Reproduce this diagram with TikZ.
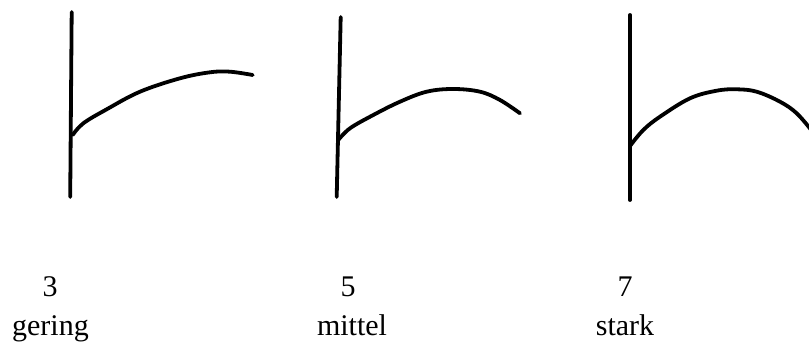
\documentclass[tikz,border=0pt]{standalone}
\usepackage{fontspec}
\setmainfont{Liberation Serif}
\usepackage{tikz}

\tikzset{
  stem/.style={black, line width=3.8pt, line cap=round},
  shoot/.style={black, line width=3.8pt, line cap=round, smooth, tension=0.6},
  lbl/.style={anchor=base, inner sep=0pt, font=\fontsize{30}{36}\selectfont}
}

\begin{document}
\begin{tikzpicture}[x=1pt,y=-1pt]
\useasboundingbox (0,0) rectangle (809,342);

% gering
		\draw[stem] (71.7,12)--(70.2,197);
		\draw[shoot] plot coordinates {(72.7,135) (83.3,123.3) (106.7,109.3) (140,91.7) (180,78.3) (210,72.3) (230,71.7) (252.7,75)};

% mittel
		\draw[stem] (340.7,17)--(336.7,197);
		\draw[shoot] plot coordinates {(338.3,140) (350,128.3) (373.3,115) (400,101.7) (426.7,91.7) (453.3,89) (480,91.7) (500,100) (520,113.3)};

% stark
		\draw[stem] (630,15)--(630,200);
		\draw[shoot] plot coordinates {(630,146) (643.3,130) (660,116.7) (690,98.3) (716.7,90.7) (736.7,89.3) (756.7,91.7) (780,101.7) (796.7,113.3) (812,131)};

 \node[lbl] (n3) at (50,296.5) {3};
 \node[lbl] (w3) at (50.5,335) {gering};
 \node[lbl] (n5) at (348,296.5) {5};
 \node[lbl] (w5) at (352,335) {mittel};
 \node[lbl] (n7) at (625,296.5) {7};
 \node[lbl] (w7) at (625,335) {stark};
\end{tikzpicture}
\end{document}
